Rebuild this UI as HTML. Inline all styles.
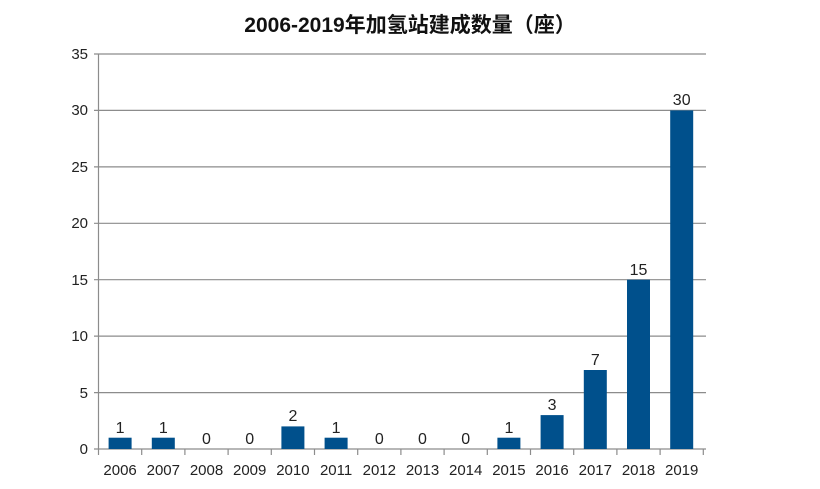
<!DOCTYPE html>
<html><head><meta charset="utf-8"><style>body{margin:0;background:#fff}</style></head><body>
<svg width="820" height="484" xmlns="http://www.w3.org/2000/svg" font-family="'Liberation Sans','Noto Sans CJK SC',sans-serif">
<rect width="820" height="484" fill="#fff"/>
<text x="410" y="32" text-anchor="middle" font-size="21" font-weight="bold" fill="#111">2006-2019年加氢站建成数量（座）</text>
<g stroke="#8c8c8c" stroke-width="1.2">
<line x1="94" y1="54" x2="706" y2="54"/>
<line x1="94" y1="110.4" x2="706" y2="110.4"/>
<line x1="94" y1="166.9" x2="706" y2="166.9"/>
<line x1="94" y1="223.3" x2="706" y2="223.3"/>
<line x1="94" y1="279.7" x2="706" y2="279.7"/>
<line x1="94" y1="336.1" x2="706" y2="336.1"/>
<line x1="94" y1="392.6" x2="706" y2="392.6"/>
<line x1="94" y1="449" x2="706" y2="449"/>
<line x1="98.5" y1="54" x2="98.5" y2="449"/>
<line x1="98.5" y1="449" x2="98.5" y2="455"/><line x1="141.7" y1="449" x2="141.7" y2="455"/><line x1="184.9" y1="449" x2="184.9" y2="455"/><line x1="228.1" y1="449" x2="228.1" y2="455"/><line x1="271.3" y1="449" x2="271.3" y2="455"/><line x1="314.5" y1="449" x2="314.5" y2="455"/><line x1="357.7" y1="449" x2="357.7" y2="455"/><line x1="400.9" y1="449" x2="400.9" y2="455"/><line x1="444.1" y1="449" x2="444.1" y2="455"/><line x1="487.3" y1="449" x2="487.3" y2="455"/><line x1="530.5" y1="449" x2="530.5" y2="455"/><line x1="573.7" y1="449" x2="573.7" y2="455"/><line x1="616.9" y1="449" x2="616.9" y2="455"/><line x1="660.1" y1="449" x2="660.1" y2="455"/><line x1="703.3" y1="449" x2="703.3" y2="455"/>
</g>
<g font-size="15" fill="#222" text-anchor="end">
<text x="88" y="59">35</text><text x="88" y="115">30</text><text x="88" y="172">25</text><text x="88" y="228">20</text><text x="88" y="285">15</text><text x="88" y="341">10</text><text x="88" y="398">5</text><text x="88" y="454">0</text>
</g>
<g fill="#00508c">
<rect x="108.6" y="437.7" width="23" height="11.3"/>
<rect x="151.8" y="437.7" width="23" height="11.3"/>
<rect x="281.4" y="426.4" width="23" height="22.6"/>
<rect x="324.6" y="437.7" width="23" height="11.3"/>
<rect x="497.4" y="437.7" width="23" height="11.3"/>
<rect x="540.6" y="415.1" width="23" height="33.9"/>
<rect x="583.8" y="370" width="23" height="79"/>
<rect x="627" y="279.7" width="23" height="169.3"/>
<rect x="670.2" y="110.4" width="23" height="338.6"/>
</g>
<g font-size="16" fill="#222" text-anchor="middle">
<text x="120.1" y="433">1</text><text x="163.3" y="433">1</text><text x="206.5" y="444">0</text><text x="249.7" y="444">0</text><text x="292.9" y="421">2</text><text x="336.1" y="433">1</text><text x="379.3" y="444">0</text><text x="422.5" y="444">0</text><text x="465.7" y="444">0</text><text x="508.9" y="433">1</text><text x="552.1" y="410">3</text><text x="595.3" y="365">7</text><text x="638.5" y="275">15</text><text x="681.7" y="105">30</text>
</g>
<g font-size="15" fill="#222" text-anchor="middle">
<text x="120.1" y="475">2006</text><text x="163.3" y="475">2007</text><text x="206.5" y="475">2008</text><text x="249.7" y="475">2009</text><text x="292.9" y="475">2010</text><text x="336.1" y="475">2011</text><text x="379.3" y="475">2012</text><text x="422.5" y="475">2013</text><text x="465.7" y="475">2014</text><text x="508.9" y="475">2015</text><text x="552.1" y="475">2016</text><text x="595.3" y="475">2017</text><text x="638.5" y="475">2018</text><text x="681.7" y="475">2019</text>
</g>
</svg>
</body></html>
